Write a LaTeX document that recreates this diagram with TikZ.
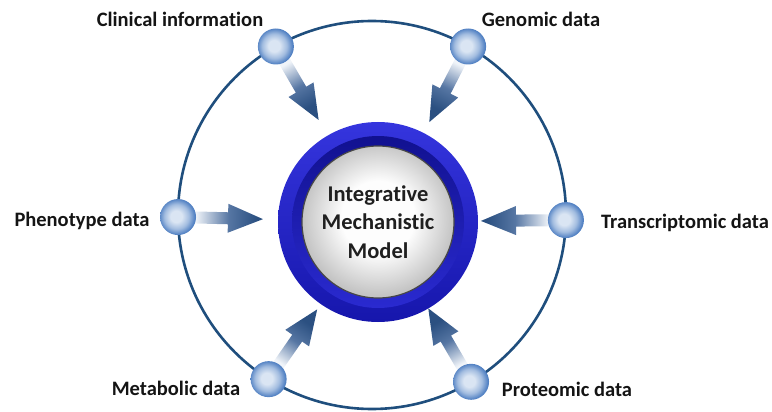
\documentclass[tikz,border=0pt]{standalone}
\usepackage{fontspec}
\setmainfont[Ligatures={NoCommon,NoContextual}]{Carlito}
\usetikzlibrary{calc}
\definecolor{ringcol}{HTML}{1F4E7D}
\definecolor{apale}{HTML}{F0F4F9}
\definecolor{amid}{HTML}{5676A3}
\definecolor{adark}{HTML}{2B5081}
\definecolor{ballin}{HTML}{DAE5F3}
\definecolor{ballmid}{HTML}{A3BDE0}
\definecolor{ballout}{HTML}{4F7FC2}
\definecolor{ringA}{HTML}{3535DE}
\definecolor{ringB}{HTML}{1616AC}
\definecolor{ringC}{HTML}{111190}
\definecolor{ringD}{HTML}{2A2AD0}
\definecolor{silverin}{HTML}{FDFDFD}
\definecolor{silverout}{HTML}{C4C4C4}
\pgfdeclarehorizontalshading{arrowgrad}{100bp}{color(0bp)=(apale); color(35bp)=(apale); color(55bp)=(amid); color(72bp)=(adark); color(100bp)=(adark)}
\pgfdeclareradialshading{ballgrad}{\pgfpoint{-3bp}{1bp}}{color(0bp)=(ballin); color(8bp)=(ballin); color(17bp)=(ballmid); color(25bp)=(ballout); color(50bp)=(ballout)}
\pgfdeclareradialshading{silvergrad}{\pgfpoint{0bp}{2bp}}{color(0bp)=(silverin); color(12bp)=(silverin); color(25bp)=(silverout); color(50bp)=(silverout)}
\newcommand\feedarrow[2]{%
  \pgfmathanglebetweenpoints{\pgfpointanchor{#1}{center}}{\pgfpointanchor{M}{center}}%
  \let\arrang\pgfmathresult
  \coordinate (#2h) at ($(#1.center)!50pt!(M)$);
  \coordinate (#2t) at ($(#1.center)!85pt!(M)$);
  \shade[shading=arrowgrad, shading angle=\arrang]
    ($(#1.center)!6pt!90:(M)$) -- ($(#2h)!6pt!90:(M)$) -- ($(#2h)!14.5pt!90:(M)$) -- (#2t)
    -- ($(#2h)!14.5pt!-90:(M)$) -- ($(#2h)!6pt!-90:(M)$) -- ($(#1.center)!6pt!-90:(M)$) -- cycle;
}
\tikzset{
  ball/.style={circle, minimum size=36pt, inner sep=0pt, shading=ballgrad},
  lbl/.style={font=\fontsize{20.5}{24}\selectfont\bfseries, text=black!92, anchor=base, inner sep=0pt},
  modeltext/.style={font=\fontsize{22.5}{28.5}\selectfont\bfseries, text=black!88, align=center, inner sep=0pt}
}
\begin{document}
\begin{tikzpicture}[x=1pt,y=-1pt]
\useasboundingbox (0,0) rectangle (772,412);
\coordinate (O) at (372,215);
\coordinate (M) at (378,222);
\draw[ringcol, line width=2.6pt] (O) circle[radius=194pt];
% data node positions on the ring
\path ([shift={(O)}]119.7:194pt) coordinate (q1);
\path ([shift={(O)}]60.3:194pt) coordinate (q2);
\path ([shift={(O)}]180.6:194pt) coordinate (q3);
\path ([shift={(O)}]-1.5:194pt) coordinate (q4);
\path ([shift={(O)}]-122.2:194pt) coordinate (q5);
\path ([shift={(O)}]-59.3:194pt) coordinate (q6);
\feedarrow{q1}{a1}
\feedarrow{q2}{a2}
\feedarrow{q3}{a3}
\feedarrow{q4}{a4}
\feedarrow{q5}{a5}
\feedarrow{q6}{a6}
\node[ball] (c1) at (q1) {};
\node[ball] (c2) at (q2) {};
\node[ball] (c3) at (q3) {};
\node[ball] (c4) at (q4) {};
\node[ball] (c5) at (q5) {};
\node[ball] (c6) at (q6) {};
% central model
\shade[top color=ringA, bottom color=ringB] (M) circle[radius=100pt];
\shade[top color=ringC, bottom color=ringD] (M) circle[radius=86pt];
\shadedraw[shading=silvergrad, draw=black!72, line width=1.2pt] (M) circle[radius=76pt];
\node[modeltext] (model) at (M) {Integrative\\Mechanistic\\Model};
% labels
\node[lbl] (l1) at (180,27) {Clinical information};
\node[lbl] (l2) at (541,27) {Genomic data};
\node[lbl] (l3) at (82,226) {Phenotype data};
\node[lbl] (l4) at (685,228) {Transcriptomic data};
\node[lbl] (l5) at (176,395) {Metabolic data};
\node[lbl] (l6) at (567,396) {Proteomic data};
\end{tikzpicture}
\end{document}
